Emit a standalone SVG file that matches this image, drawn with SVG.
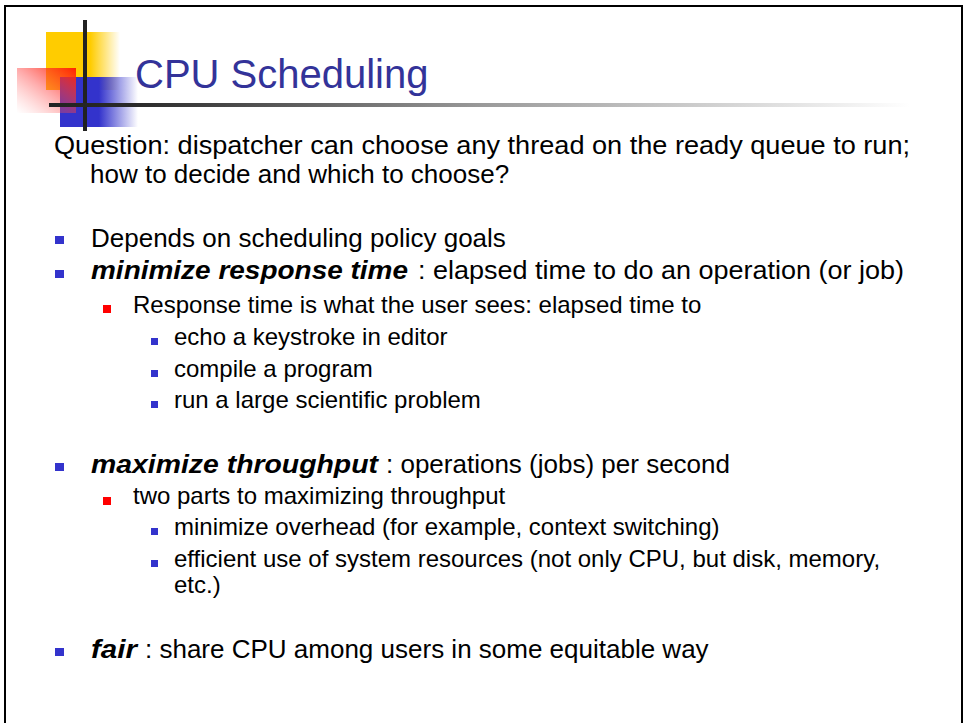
<svg xmlns="http://www.w3.org/2000/svg" width="964" height="723" viewBox="0 0 964 723">
<defs>
<style>
.t{font-family:"Liberation Sans",Arial,sans-serif;fill:#000}
.l1{font-size:26px}
.l2{font-size:24px}
.bi{font-weight:bold;font-style:italic}
.title{font-family:"Liberation Sans",Arial,sans-serif;font-size:40px;fill:#333399}
.b1{fill:#3333CC}
.b2{fill:#FF0000}
</style>
<linearGradient id="gy" x1="0" y1="0" x2="1" y2="0">
<stop offset="0" stop-color="#FFCC00"/>
<stop offset="0.6" stop-color="#FFCC00"/>
<stop offset="1" stop-color="#FFCC00" stop-opacity="0"/>
</linearGradient>
<linearGradient id="gb" x1="0" y1="0" x2="1" y2="0">
<stop offset="0" stop-color="#3333CC"/>
<stop offset="0.5" stop-color="#3333CC"/>
<stop offset="1" stop-color="#3333CC" stop-opacity="0"/>
</linearGradient>
<linearGradient id="gr" x1="1" y1="0" x2="0" y2="1">
<stop offset="0" stop-color="#FF2200" stop-opacity="1"/>
<stop offset="0.5" stop-color="#FF4040" stop-opacity="0.45"/>
<stop offset="1" stop-color="#FF8080" stop-opacity="0"/>
</linearGradient>
<linearGradient id="gl" x1="49" y1="0" x2="910" y2="0" gradientUnits="userSpaceOnUse">
<stop offset="0" stop-color="#222"/>
<stop offset="0.1" stop-color="#2a2a2a"/>
<stop offset="0.5" stop-color="#999"/>
<stop offset="1" stop-color="#fff"/>
</linearGradient>
</defs>
<rect x="0" y="0" width="964" height="723" fill="#fff"/>
<rect x="5" y="6" width="957" height="800" fill="none" stroke="#000" stroke-width="2"/>
<g id="logo">
<rect x="46" y="32" width="74" height="58" fill="url(#gy)"/>
<rect x="60" y="77" width="78" height="50" fill="url(#gb)"/>
<rect x="17" y="68" width="59" height="45" fill="url(#gr)"/>
<rect x="83" y="20" width="4" height="111" fill="#222"/>
<rect x="49" y="103" width="861" height="4" fill="url(#gl)"/>
</g>
<g id="title"><text class="title" x="135" y="88">CPU Scheduling</text></g>
<g id="question">
<text class="t l1" x="54" y="154" textLength="856" lengthAdjust="spacingAndGlyphs">Question: dispatcher can choose any thread on the ready queue to run;</text>
<text class="t l1" x="90" y="183">how to decide and which to choose?</text>
</g>
<g id="item-depends">
<rect class="b1" x="55" y="236" width="9" height="8"/>
<text class="t l1" x="91" y="247">Depends on scheduling policy goals</text>
</g>
<g id="item-response">
<rect class="b1" x="55" y="270" width="9" height="8"/>
<text class="t l1 bi" x="91" y="279" textLength="317" lengthAdjust="spacingAndGlyphs">minimize response time</text>
<text class="t l1" x="418" y="279" textLength="486" lengthAdjust="spacingAndGlyphs">: elapsed time to do an operation (or job)</text>
<rect class="b2" x="103" y="305" width="8" height="8"/>
<text class="t l2" x="133" y="313">Response time is what the user sees: elapsed time to</text>
<rect class="b1" x="151" y="338" width="7" height="7"/>
<text class="t l2" x="174" y="345">echo a keystroke in editor</text>
<rect class="b1" x="151" y="370" width="7" height="7"/>
<text class="t l2" x="174" y="377">compile a program</text>
<rect class="b1" x="151" y="401" width="7" height="7"/>
<text class="t l2" x="174" y="408">run a large scientific problem</text>
</g>
<g id="item-throughput">
<rect class="b1" x="55" y="463" width="9" height="8"/>
<text class="t l1 bi" x="91" y="473" textLength="287" lengthAdjust="spacingAndGlyphs">maximize throughput</text>
<text class="t l1" x="386" y="473">: operations (jobs) per second</text>
<rect class="b2" x="103" y="497" width="8" height="8"/>
<text class="t l2" x="133" y="504">two parts to maximizing throughput</text>
<rect class="b1" x="151" y="528" width="7" height="7"/>
<text class="t l2" x="174" y="535">minimize overhead (for example, context switching)</text>
<rect class="b1" x="151" y="560" width="7" height="7"/>
<text class="t l2" x="174" y="567">efficient use of system resources (not only CPU, but disk, memory,</text>
<text class="t l2" x="174" y="593">etc.)</text>
</g>
<g id="item-fair">
<rect class="b1" x="55" y="648" width="9" height="8"/>
<text class="t l1 bi" x="91" y="658" textLength="46" lengthAdjust="spacingAndGlyphs">fair</text>
<text class="t l1" x="145" y="658">: share CPU among users in some equitable way</text>
</g>
<g id="connectors"/>
</svg>
